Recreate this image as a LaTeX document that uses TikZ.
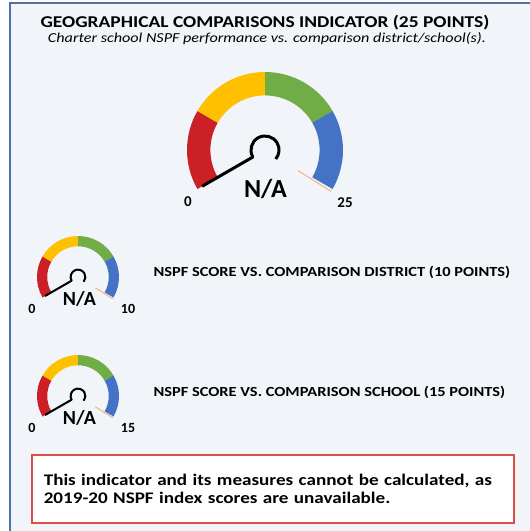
\documentclass[tikz,border=0pt]{standalone}
\usepackage{fontspec}
\setmainfont{Carlito}[FakeStretch=1.18]
\newfontfamily\gaugefont{Carlito}
\definecolor{gred}{RGB}{204,32,39}
\definecolor{gyellow}{RGB}{255,192,0}
\definecolor{ggreen}{RGB}{112,173,71}
\definecolor{gblue}{RGB}{68,114,196}
\definecolor{tickpeach}{RGB}{244,177,131}
\definecolor{panelbg}{RGB}{241,244,248}
\definecolor{frameblue}{RGB}{79,114,163}
\definecolor{notered}{RGB}{222,76,70}

\begin{document}
\begin{tikzpicture}[x=1pt,y=1pt]
        \useasboundingbox (0,0) rectangle (530,-531);
        \fill[white](0,0) rectangle (530,-531);
        \fill[panelbg](10,-3) rectangle (530,-531);
        \draw[frameblue,line width=1.6](10,-531)--(10,-3)--(530,-3);
        % title
        \node[font=\bfseries\fontsize{16.5}{18}\selectfont] (title) at (265,-23) {GEOGRAPHICAL COMPARISONS INDICATOR (25 POINTS)};
        \node[font=\itshape\fontsize{13.7}{15}\selectfont] (subtitle) at (267,-39) {Charter school NSPF performance vs. comparison district/school(s).};
        % gauges: centre x / centre y / outer radius / inner ratio / needle width
        \foreach \gx/\gy/\gr/\gi/\gw in {265/-150/78/0.7/3, 78/-277/41/0.75/2, 78/-396/41/0.75/2}{
            \begin{scope}[shift={(\gx,\gy)},scale=\gr]
                \foreach \c [count=\i, evaluate=\i as \a using 270-60*\i] in {gred,gyellow,ggreen,gblue}
                    \fill[\c](\a:1) arc[start angle=\a, end angle=\a-60, radius=1]--({\a-60}:\gi) arc[start angle=\a-60, end angle=\a, radius=\gi]--cycle;
                \draw[tickpeach,line width=1]({-32}:0.5)--({-32}:1);
                \draw[line width=\gw,line join=round](210:0.93)--(210:0.18) arc[start angle=210, end angle=-40, radius=0.18];
            \end{scope}
        }
        % big gauge labels
        \node[font=\gaugefont\bfseries\fontsize{26}{28}\selectfont] (bigna) at (265.5,-188.5) {N/A};
        \node[font=\gaugefont\bfseries\fontsize{15}{16}\selectfont] (bigmin) at (188,-202) {0};
        \node[font=\gaugefont\bfseries\fontsize{15}{16}\selectfont] (bigmax) at (345,-203) {25};
        % district gauge labels
        \node[font=\gaugefont\bfseries\fontsize{20}{22}\selectfont] (distna) at (79.5,-299) {N/A};
        \node[font=\gaugefont\bfseries\fontsize{14}{15}\selectfont] (distmin) at (32,-309) {0};
        \node[font=\gaugefont\bfseries\fontsize{14}{15}\selectfont] (distmax) at (128,-309) {10};
        \node[font=\bfseries\fontsize{13.9}{15}\selectfont,anchor=west] (distlabel) at (150,-272) {NSPF SCORE VS. COMPARISON DISTRICT (10 POINTS)};
        % school gauge labels
        \node[font=\gaugefont\bfseries\fontsize{20}{22}\selectfont] (schoolna) at (79.5,-418) {N/A};
        \node[font=\gaugefont\bfseries\fontsize{14}{15}\selectfont] (schoolmin) at (32,-428) {0};
        \node[font=\gaugefont\bfseries\fontsize{14}{15}\selectfont] (schoolmax) at (128,-428) {15};
        \node[font=\bfseries\fontsize{13.9}{15}\selectfont,anchor=west] (schoollabel) at (150,-392) {NSPF SCORE VS. COMPARISON SCHOOL (15 POINTS)};
        % note box
        \node[draw=notered,fill=white,line width=1.6,anchor=north west,minimum width=482,minimum height=68,text width=458,align=left,inner sep=0,font=\bfseries\fontsize{16.2}{17.5}\selectfont] (note) at (31,-454) {This indicator and its measures cannot be calculated, as\\2019-20 NSPF index scores are unavailable.};
    \end{tikzpicture}
\end{document}
